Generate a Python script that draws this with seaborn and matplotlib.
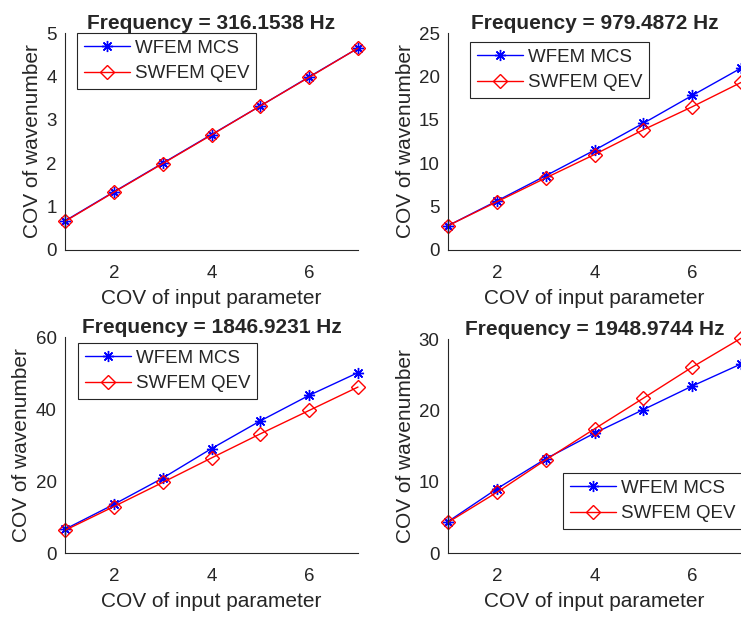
import numpy as np
import pandas as pd
import matplotlib
matplotlib.use("Agg")
import matplotlib.pyplot as plt
import seaborn as sns

# ---- data ----
cov_input = [1, 2, 3, 4, 5, 6, 7]
titles = ["Frequency = 316.1538 Hz", "Frequency = 979.4872 Hz",
          "Frequency = 1846.9231 Hz", "Frequency = 1948.9744 Hz"]
wfem_316 = [0.67, 1.34, 2.00, 2.66, 3.32, 3.99, 4.65]
swfem_316 = [0.66, 1.33, 1.99, 2.65, 3.32, 3.98, 4.65]
wfem_979 = [2.8, 5.65, 8.55, 11.5, 14.6, 17.8, 20.95]
swfem_979 = [2.8, 5.55, 8.3, 11.0, 13.85, 16.5, 19.3]
wfem_1846 = [6.6, 13.5, 20.8, 29.0, 36.7, 43.8, 50.1]
swfem_1846 = [6.3, 12.9, 19.6, 26.4, 33.1, 39.6, 46.1]
wfem_1948 = [4.4, 9.0, 13.2, 16.8, 20.1, 23.4, 26.5]
swfem_1948 = [4.3, 8.5, 13.05, 17.4, 21.7, 26.05, 30.1]
ylims = [(0, 5), (0, 25), (0, 60), (0, 30)]
yticks = [[0, 1, 2, 3, 4, 5], [0, 5, 10, 15, 20, 25], [0, 20, 40, 60], [0, 10, 20, 30]]

wfem_all = [wfem_316, wfem_979, wfem_1846, wfem_1948]
swfem_all = [swfem_316, swfem_979, swfem_1846, swfem_1948]

rows = []
for p in range(4):
    for x, yw, ys in zip(cov_input, wfem_all[p], swfem_all[p]):
        rows.append({"panel": p, "x": x, "y": yw, "series": "WFEM MCS"})
        rows.append({"panel": p, "x": x, "y": ys, "series": "SWFEM QEV"})
df = pd.DataFrame(rows)

sns.set_style("white")
plt.rcParams["font.family"] = ["Liberation Sans", "DejaVu Sans"]

W, H = 741, 617
fig = plt.figure(figsize=(W / 100, H / 100), dpi=100)

boxes = [(65, 33, 358, 250), (448, 33, 741, 250),
         (65, 337, 358, 553), (448, 339, 741, 553)]
# legend upper-left corners in pixels
leg_corners = [(77, 33), (470, 42), (78, 343), (563, 473)]

dark = (0.15, 0.15, 0.15)
for p in range(4):
    l, t, r, b = boxes[p]
    ax = fig.add_axes([l / W, 1 - b / H, (r - l) / W, (b - t) / H])
    sub = df[df.panel == p]
    sns.lineplot(data=sub[sub.series == "WFEM MCS"], x="x", y="y", ax=ax,
                 color="#0000ff", lw=1.0, marker=(8, 2, 0), markersize=8,
                 markeredgecolor="#0000ff", markeredgewidth=1.0,
                 label="WFEM MCS", clip_on=False, errorbar=None)
    sns.lineplot(data=sub[sub.series == "SWFEM QEV"], x="x", y="y", ax=ax,
                 color="#ff0000", lw=1.0, marker="D", markersize=7,
                 markerfacecolor="none", markeredgecolor="#ff0000",
                 markeredgewidth=1.0, label="SWFEM QEV", clip_on=False,
                 errorbar=None)
    ax.set_xlim(1, 7)
    ax.set_ylim(*ylims[p])
    ax.set_xticks([2, 4, 6])
    ax.set_yticks(yticks[p])
    ax.tick_params(direction="in", length=4, width=0.8, labelsize=13.5,
                   colors=dark)
    ax.tick_params(axis="x", pad=10.5)
    ax.tick_params(axis="y", pad=6)
    for s in ["top", "right"]:
        ax.spines[s].set_visible(False)
    for s in ["left", "bottom"]:
        ax.spines[s].set_color(dark)
        ax.spines[s].set_linewidth(0.8)
    ax.set_xlabel("COV of input parameter", fontsize=15, color=dark, labelpad=5)
    ax.set_ylabel("COV of wavenumber", fontsize=15, color=dark, labelpad=3)
    ax.set_title(titles[p], fontsize=15, fontweight="bold", pad=3)
    cx, cy = leg_corners[p]
    leg = ax.legend(loc="upper left", bbox_to_anchor=(cx / W, 1 - cy / H),
                    bbox_transform=fig.transFigure, borderaxespad=0.0,
                    fontsize=13.5, frameon=True, fancybox=False, framealpha=1,
                    edgecolor=dark, handlelength=2.5, borderpad=0.35,
                    labelspacing=0.45, handletextpad=0.25)
    leg.get_frame().set_linewidth(0.8)

fig.savefig("out.png", dpi=100)
